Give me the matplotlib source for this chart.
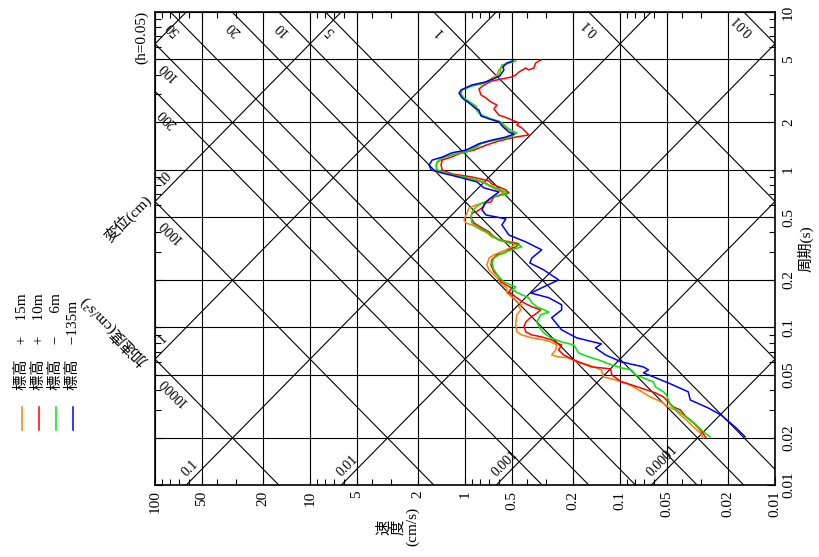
import numpy as np
import matplotlib
matplotlib.use("Agg")
import matplotlib.pyplot as plt
from matplotlib.lines import Line2D
from matplotlib.ticker import FixedLocator, FixedFormatter, LogLocator, NullFormatter

plt.rcParams['font.family'] = ['Liberation Serif', 'Noto Sans CJK JP']
plt.rcParams['font.size'] = 11

# 応答スペクトル: 周期 (s) と 速度 (cm/s)
# 標高 +15m
period_p15 = [4.89, 4.68, 4.29, 3.99, 3.60, 3.44, 3.20, 3.02, 2.85, 2.65, 2.50, 2.36, 2.19, 2.10,
              2.01, 1.87, 1.76, 1.71, 1.61, 1.54, 1.46, 1.33, 1.26, 1.19, 1.10, 1.025, 0.967, 0.926,
              0.886, 0.824, 0.777, 0.744, 0.712, 0.691, 0.661, 0.615, 0.597, 0.572, 0.531, 0.480,
              0.459, 0.446, 0.415, 0.397, 0.374, 0.358, 0.348, 0.343, 0.324, 0.310, 0.301, 0.288,
              0.275, 0.249, 0.231, 0.215, 0.200, 0.186, 0.178, 0.165, 0.156, 0.145, 0.139, 0.135,
              0.129, 0.120, 0.108, 0.101, 0.0935, 0.0895, 0.0857, 0.0832, 0.0808, 0.0774, 0.0719,
              0.0668, 0.0649, 0.0640, 0.0594, 0.0577, 0.0537, 0.0485, 0.0464, 0.0444, 0.0401,
              0.0362, 0.0336, 0.0313, 0.0299, 0.0278, 0.0259, 0.0234, 0.0214, 0.0199]
vel_p15 = [0.484, 0.537, 0.605, 0.623, 0.733, 0.902, 1.061, 1.077, 1.030, 0.929, 0.862, 0.837, 0.777,
           0.691, 0.596, 0.561, 0.506, 0.477, 0.521, 0.651, 0.789, 0.943, 1.177, 1.365, 1.514, 1.537,
           1.537, 1.212, 0.943, 0.755, 0.681, 0.623, 0.561, 0.605, 0.681, 0.755, 0.850, 0.943, 0.971,
           1.015, 0.985, 0.902, 0.789, 0.722, 0.671, 0.587, 0.506, 0.463, 0.499, 0.545, 0.587, 0.651,
           0.701, 0.722, 0.701, 0.651, 0.605, 0.578, 0.537, 0.537, 0.499, 0.463, 0.430, 0.449, 0.436,
           0.463, 0.470, 0.470, 0.463, 0.430, 0.371, 0.310, 0.280, 0.256, 0.260, 0.276, 0.249, 0.214,
           0.185, 0.159, 0.132, 0.128, 0.107, 0.0908, 0.0760, 0.0637, 0.0541, 0.0488, 0.0440, 0.0408,
           0.0374, 0.0337, 0.0304, 0.0290]

# 標高 +10m
period_p10 = [4.96, 4.75, 4.41, 4.29, 4.41, 4.16, 3.99, 3.87, 3.76, 3.65, 3.44, 3.25, 2.98, 2.85,
              2.69, 2.57, 2.43, 2.22, 2.13, 2.04, 1.98, 1.92, 1.84, 1.71, 1.66, 1.61, 1.52, 1.43,
              1.33, 1.28, 1.20, 1.15, 1.07, 0.996, 0.939, 0.899, 0.848, 0.811, 0.777, 0.744, 0.712,
              0.691, 0.671, 0.624, 0.615, 0.572, 0.539, 0.531, 0.494, 0.459, 0.427, 0.403, 0.385,
              0.358, 0.343, 0.338, 0.324, 0.310, 0.296, 0.288, 0.268, 0.249, 0.225, 0.209, 0.194,
              0.186, 0.178, 0.168, 0.154, 0.143, 0.135, 0.129, 0.123, 0.116, 0.108, 0.101, 0.0935,
              0.0895, 0.0869, 0.0832, 0.0796, 0.0774, 0.0719, 0.0668, 0.0621, 0.0594, 0.0561, 0.0553,
              0.0545, 0.0499, 0.0450, 0.0431, 0.0407, 0.0384, 0.0362, 0.0336, 0.0313, 0.0299, 0.0270,
              0.0248, 0.0224, 0.0199]
vel_p10 = [0.325, 0.350, 0.360, 0.388, 0.405, 0.449, 0.470, 0.499, 0.578, 0.671, 0.755, 0.813, 0.789,
           0.733, 0.681, 0.623, 0.651, 0.605, 0.537, 0.484, 0.449, 0.463, 0.430, 0.399, 0.388, 0.470,
           0.605, 0.733, 0.875, 1.045, 1.230, 1.406, 1.427, 1.406, 1.212, 0.902, 0.701, 0.671, 0.605,
           0.545, 0.521, 0.578, 0.651, 0.681, 0.733, 0.777, 0.850, 0.902, 0.915, 0.875, 0.777, 0.701,
           0.671, 0.605, 0.499, 0.449, 0.470, 0.521, 0.561, 0.623, 0.671, 0.681, 0.651, 0.605, 0.587,
           0.545, 0.499, 0.521, 0.463, 0.417, 0.371, 0.325, 0.344, 0.376, 0.405, 0.417, 0.405, 0.371,
           0.320, 0.276, 0.256, 0.238, 0.249, 0.231, 0.199, 0.177, 0.153, 0.132, 0.115, 0.113, 0.0978,
           0.0843, 0.0706, 0.0591, 0.0525, 0.0488, 0.0453, 0.0408, 0.0374, 0.0337, 0.0304, 0.0278]

# 標高 -6m
period_m6 = [4.89, 4.75, 4.61, 4.41, 4.10, 3.87, 3.55, 3.39, 3.20, 3.02, 2.85, 2.65, 2.53, 2.36,
             2.22, 2.10, 2.01, 1.87, 1.76, 1.71, 1.61, 1.54, 1.48, 1.39, 1.29, 1.24, 1.19, 1.12,
             1.07, 0.996, 0.926, 0.886, 0.836, 0.800, 0.766, 0.722, 0.701, 0.681, 0.661, 0.624,
             0.615, 0.580, 0.539, 0.501, 0.459, 0.427, 0.403, 0.385, 0.358, 0.343, 0.333, 0.324,
             0.314, 0.301, 0.288, 0.275, 0.256, 0.231, 0.209, 0.194, 0.186, 0.180, 0.173, 0.168,
             0.161, 0.154, 0.143, 0.135, 0.125, 0.120, 0.108, 0.101, 0.0922, 0.0857, 0.0808, 0.0774,
             0.0719, 0.0688, 0.0649, 0.0621, 0.0577, 0.0553, 0.0537, 0.0499, 0.0478, 0.0450, 0.0419,
             0.0390, 0.0373, 0.0346, 0.0322, 0.0299, 0.0278, 0.0259, 0.0240, 0.0217, 0.0202]
vel_m6 = [0.470, 0.521, 0.578, 0.587, 0.596, 0.623, 0.733, 0.902, 1.045, 1.061, 1.015, 0.915, 0.850,
          0.837, 0.777, 0.681, 0.587, 0.545, 0.499, 0.463, 0.506, 0.632, 0.777, 0.837, 0.985, 1.212,
          1.406, 1.514, 1.537, 1.514, 1.212, 0.943, 0.755, 0.701, 0.632, 0.545, 0.537, 0.623, 0.681,
          0.722, 0.777, 0.850, 0.902, 0.915, 0.902, 0.813, 0.722, 0.681, 0.605, 0.521, 0.449, 0.430,
          0.484, 0.545, 0.605, 0.651, 0.671, 0.651, 0.605, 0.561, 0.506, 0.470, 0.499, 0.470, 0.430,
          0.388, 0.371, 0.344, 0.288, 0.325, 0.344, 0.334, 0.310, 0.280, 0.238, 0.199, 0.190, 0.185,
          0.159, 0.137, 0.113, 0.0978, 0.0843, 0.0795, 0.0706, 0.0609, 0.0591, 0.0525, 0.0502, 0.0488,
          0.0473, 0.0433, 0.0390, 0.0352, 0.0322, 0.0290, 0.0262]

# 標高 -135m
period_m135 = [4.89, 4.75, 4.48, 4.29, 3.93, 3.60, 3.44, 3.20, 3.06, 2.85, 2.65, 2.46, 2.39, 2.19,
               2.10, 2.01, 1.87, 1.73, 1.68, 1.61, 1.54, 1.46, 1.33, 1.28, 1.20, 1.15, 1.07, 0.996,
               0.939, 0.886, 0.836, 0.766, 0.722, 0.661, 0.615, 0.555, 0.516, 0.487, 0.446, 0.385,
               0.348, 0.310, 0.275, 0.256, 0.231, 0.200, 0.178, 0.165, 0.154, 0.139, 0.129, 0.115,
               0.0963, 0.0857, 0.0785, 0.0740, 0.0668, 0.0603, 0.0561, 0.0537, 0.0514, 0.0444, 0.0390,
               0.0346, 0.0308, 0.0278, 0.0230, 0.0202]
vel_m135 = [0.491, 0.537, 0.570, 0.561, 0.596, 0.733, 0.902, 1.061, 1.093, 1.045, 0.943, 0.862, 0.813,
            0.789, 0.701, 0.605, 0.570, 0.521, 0.484, 0.545, 0.671, 0.813, 0.985, 1.212, 1.406, 1.630,
            1.704, 1.654, 1.325, 1.045, 0.837, 0.755, 0.605, 0.681, 0.744, 0.777, 0.733, 0.545, 0.578,
            0.521, 0.405, 0.320, 0.371, 0.382, 0.310, 0.249, 0.320, 0.376, 0.288, 0.238, 0.238, 0.276,
            0.238, 0.190, 0.132, 0.144, 0.124, 0.0978, 0.0706, 0.0656, 0.0706, 0.0488, 0.0363, 0.0352,
            0.0270, 0.0223, 0.0178, 0.0156]

series_labels = ["標高　+　15m", "標高　+　10m", "標高　−　  6m", "標高　−135m"]
series_colors = ["#ff8000", "#ff0000", "#00e600", "#0000ff"]

vel_ticks = [100, 50, 20, 10, 5, 2, 1, 0.5, 0.2, 0.1, 0.05, 0.02, 0.01]
vel_ticklabels = ["100", "50", "20", "10", "5", "2", "1", "0.5", "0.2", "0.1", "0.05", "0.02", "0.01"]
period_ticks = [10, 5, 2, 1, 0.5, 0.2, 0.1, 0.05, 0.02, 0.01]
period_ticklabels = ["10", "5", "2", "1", "0.5", "0.2", "0.1", "0.05", "0.02", "0.01"]

# 変位 (cm) と 加速度 (cm/s^2) の斜線
disp_values = [0.0001, 0.001, 0.01, 0.1, 1, 10, 100]
disp_labels = ["0.0001", "0.001", "0.01", "0.1", "1", "10", ""]
acc_values = [0.01, 0.1, 1, 5, 10, 20, 50, 100, 200, 1000, 10000]
acc_labels = ["0.01", "0.1", "1", "5", "10", "20", "50", "100", "200", "1000", "10000"]

fig = plt.figure(figsize=(8.19, 5.57), dpi=100)
ax = fig.add_axes([0.1893, 0.1293, 0.757, 0.8492])
ax.set_xscale("log")
ax.set_yscale("log")

t_ends = np.array([0.005, 20.0])
for d in disp_values:
    ax.plot(2 * np.pi * d / t_ends, t_ends, color="k", lw=0.8, zorder=1)
for a in acc_values:
    ax.plot(a * t_ends / (2 * np.pi), t_ends, color="k", lw=0.8, zorder=1)

periods = [period_p15, period_p10, period_m6, period_m135]
vels = [vel_p15, vel_p10, vel_m6, vel_m135]
for t, v, c in zip(periods, vels, series_colors):
    ax.plot(v, t, color=c, lw=1.1, zorder=3)

ax.set_xlim(100, 0.01)
ax.set_ylim(0.01, 10)

ax.xaxis.set_major_locator(FixedLocator(vel_ticks))
ax.xaxis.set_major_formatter(FixedFormatter(vel_ticklabels))
ax.yaxis.set_major_locator(FixedLocator(period_ticks))
ax.yaxis.set_major_formatter(FixedFormatter(period_ticklabels))
ax.xaxis.set_minor_locator(LogLocator(base=10, subs=np.arange(2, 10)))
ax.yaxis.set_minor_locator(LogLocator(base=10, subs=np.arange(2, 10)))
ax.xaxis.set_minor_formatter(NullFormatter())
ax.yaxis.set_minor_formatter(NullFormatter())
ax.tick_params(which="both", direction="in", top=True, bottom=True, left=True, right=True,
               labelleft=False, labelright=True)
ax.tick_params(which="major", length=6, width=0.8)
ax.tick_params(which="minor", length=4, width=0.8)
ax.tick_params(axis="x", labelrotation=90, pad=4)
ax.tick_params(axis="y", labelrotation=90, pad=5)
for lab in ax.get_yticklabels():
    lab.set_verticalalignment("center")
ax.grid(which="major", color="k", lw=0.8)
for sp in ax.spines.values():
    sp.set_linewidth(1.2)

ax.yaxis.set_label_position("right")
ax.set_ylabel("周期(s)", rotation=90, labelpad=2)

# 斜線のラベル
r = np.sqrt(0.5)
for a, lab in zip(acc_values, acc_labels):
    v_top = a * 10 / (2 * np.pi)
    p = 10
    if v_top <= 100:
        # 上辺: 文字列の始まりを線に沿って揃える
        pt, s, ha = (v_top, 10), 20, "left"
    else:
        # 左辺: 文字列の終わりを揃える
        pt, s, ha = (100, 2 * np.pi * 100 / a), 18, "right"
    ax.annotate(lab, pt, xytext=(s * r - p * r, -s * r - p * r), textcoords="offset pixels",
                rotation=135, rotation_mode="anchor", ha=ha, va="center",
                fontsize=10, annotation_clip=False)
for d, lab in zip(disp_values, disp_labels):
    if not lab:
        continue
    v_bot = 2 * np.pi * d / 0.01
    if v_bot <= 100:
        pt, s = (v_bot, 0.01), 6
    else:
        pt, s = (100, 2 * np.pi * d / 100), 16
    p = 9
    ax.annotate(lab, pt, xytext=(s * r - p * r, s * r + p * r), textcoords="offset pixels",
                rotation=45, rotation_mode="anchor", ha="left", va="center",
                fontsize=10, annotation_clip=False)

ax.annotate("変位(cm)", (100, 2 * np.pi * 10 / 100), xytext=(-6, 4), textcoords="offset pixels",
            rotation=45, rotation_mode="anchor", ha="right", va="center",
            fontsize=11, annotation_clip=False)
ax.annotate("加速度(cm/s²)", (100, 2 * np.pi * 1 / 100), xytext=(-10, -4), textcoords="offset pixels",
            rotation=135, rotation_mode="anchor", ha="left", va="center",
            fontsize=11, annotation_clip=False)

fig.text(0.1734, 0.9336, "(h=0.05)", rotation=90, ha="center", va="center", fontsize=11)
fig.text(0.486, 0.054, "速\n度\n(cm/s)", rotation=90, ha="center", va="center",
         fontsize=11, multialignment="center", linespacing=1.0)

# 凡例
leg_x = [0.0269, 0.0476, 0.0684, 0.0891]
for x, c, lab in zip(leg_x, series_colors, series_labels):
    fig.add_artist(Line2D([x, x], [0.228, 0.2693], color=c, lw=1.1, transform=fig.transFigure))
    fig.text(x, 0.2998, lab, rotation=90, ha="center", va="bottom", fontsize=11)

fig.savefig("out.png", dpi=100)
